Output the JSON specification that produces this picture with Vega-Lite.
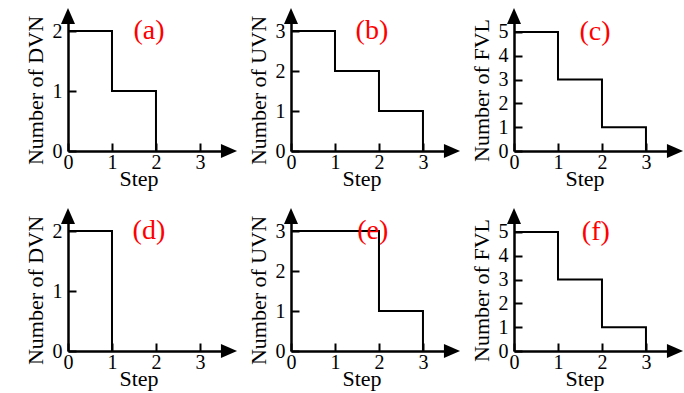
{
  "$schema": "https://vega.github.io/schema/vega-lite/v6.json",
  "background": "white",
  "padding": {"left": 23, "top": 7, "right": 5, "bottom": 3},
  "bounds": "flush",
  "columns": 3,
  "spacing": {"row": 65, "column": 62},
  "datasets": {
    "steps": [
      {"panel": "a", "step": 0, "value": 2},
      {"panel": "a", "step": 1, "value": 1},
      {"panel": "a", "step": 2, "value": 0},
      {"panel": "b", "step": 0, "value": 3},
      {"panel": "b", "step": 1, "value": 2},
      {"panel": "b", "step": 2, "value": 1},
      {"panel": "b", "step": 3, "value": 0},
      {"panel": "c", "step": 0, "value": 5},
      {"panel": "c", "step": 1, "value": 3},
      {"panel": "c", "step": 2, "value": 1},
      {"panel": "c", "step": 3, "value": 0},
      {"panel": "d", "step": 0, "value": 2},
      {"panel": "d", "step": 1, "value": 0},
      {"panel": "e", "step": 0, "value": 3},
      {"panel": "e", "step": 2, "value": 1},
      {"panel": "e", "step": 3, "value": 0},
      {"panel": "f", "step": 0, "value": 5},
      {"panel": "f", "step": 1, "value": 3},
      {"panel": "f", "step": 2, "value": 1},
      {"panel": "f", "step": 3, "value": 0}
    ]
  },
  "concat": [
    {
      "width": 161, "height": 135,
      "layer": [
        {
          "data": {"name": "steps"},
          "transform": [{"filter": "datum.panel === 'a'"}],
          "mark": {"type": "line", "interpolate": "step-after", "color": "black", "strokeWidth": 2},
          "encoding": {
            "x": {"field": "step", "type": "quantitative", "scale": {"domain": [0, 3.66], "nice": false}, "axis": {"values": [0, 1, 2, 3], "title": "Step", "format": "d"}},
            "y": {"field": "value", "type": "quantitative", "scale": {"domain": [0, 2.25], "nice": false}, "axis": {"values": [0, 1, 2], "title": "Number of DVN", "format": "d"}}
          }
        },
        {"data": {"values": [{}]}, "mark": {"type": "point", "shape": "M1.15,0L-1.15,-1L-1.15,1Z", "filled": true, "color": "black", "opacity": 1, "size": 196},
         "encoding": {"x": {"datum": 3.66, "type": "quantitative", "axis": {"values": [0, 1, 2, 3], "title": "Step", "format": "d"}}, "y": {"datum": 0, "type": "quantitative", "axis": {"values": [0, 1, 2], "title": "Number of DVN", "format": "d"}}}},
        {"data": {"values": [{}]}, "mark": {"type": "point", "shape": "M0,-1.15L-1,1.15L1,1.15Z", "filled": true, "color": "black", "opacity": 1, "size": 196},
         "encoding": {"x": {"datum": 0, "type": "quantitative", "axis": {"values": [0, 1, 2, 3], "title": "Step", "format": "d"}}, "y": {"datum": 2.25, "type": "quantitative", "axis": {"values": [0, 1, 2], "title": "Number of DVN", "format": "d"}}}},
        {"data": {"values": [{}]}, "mark": {"type": "text", "text": "(a)", "color": "#ff0000", "font": "Liberation Serif", "fontSize": 28, "baseline": "middle", "align": "center"},
         "encoding": {"x": {"datum": 1.84, "type": "quantitative", "axis": {"values": [0, 1, 2, 3], "title": "Step", "format": "d"}}, "y": {"datum": 2, "type": "quantitative", "axis": {"values": [0, 1, 2], "title": "Number of DVN", "format": "d"}}}}
      ]
    },
    {
      "width": 161, "height": 135,
      "layer": [
        {
          "data": {"name": "steps"},
          "transform": [{"filter": "datum.panel === 'b'"}],
          "mark": {"type": "line", "interpolate": "step-after", "color": "black", "strokeWidth": 2},
          "encoding": {
            "x": {"field": "step", "type": "quantitative", "scale": {"domain": [0, 3.66], "nice": false}, "axis": {"values": [0, 1, 2, 3], "title": "Step", "format": "d"}},
            "y": {"field": "value", "type": "quantitative", "scale": {"domain": [0, 3.375], "nice": false}, "axis": {"values": [0, 1, 2, 3], "title": "Number of UVN", "format": "d"}}
          }
        },
        {"data": {"values": [{}]}, "mark": {"type": "point", "shape": "M1.15,0L-1.15,-1L-1.15,1Z", "filled": true, "color": "black", "opacity": 1, "size": 196},
         "encoding": {"x": {"datum": 3.66, "type": "quantitative", "axis": {"values": [0, 1, 2, 3], "title": "Step", "format": "d"}}, "y": {"datum": 0, "type": "quantitative", "axis": {"values": [0, 1, 2, 3], "title": "Number of UVN", "format": "d"}}}},
        {"data": {"values": [{}]}, "mark": {"type": "point", "shape": "M0,-1.15L-1,1.15L1,1.15Z", "filled": true, "color": "black", "opacity": 1, "size": 196},
         "encoding": {"x": {"datum": 0, "type": "quantitative", "axis": {"values": [0, 1, 2, 3], "title": "Step", "format": "d"}}, "y": {"datum": 3.375, "type": "quantitative", "axis": {"values": [0, 1, 2, 3], "title": "Number of UVN", "format": "d"}}}},
        {"data": {"values": [{}]}, "mark": {"type": "text", "text": "(b)", "color": "#ff0000", "font": "Liberation Serif", "fontSize": 28, "baseline": "middle", "align": "center"},
         "encoding": {"x": {"datum": 1.84, "type": "quantitative", "axis": {"values": [0, 1, 2, 3], "title": "Step", "format": "d"}}, "y": {"datum": 3, "type": "quantitative", "axis": {"values": [0, 1, 2, 3], "title": "Number of UVN", "format": "d"}}}}
      ]
    },
    {
      "width": 161, "height": 135,
      "layer": [
        {
          "data": {"name": "steps"},
          "transform": [{"filter": "datum.panel === 'c'"}],
          "mark": {"type": "line", "interpolate": "step-after", "color": "black", "strokeWidth": 2},
          "encoding": {
            "x": {"field": "step", "type": "quantitative", "scale": {"domain": [0, 3.66], "nice": false}, "axis": {"values": [0, 1, 2, 3], "title": "Step", "format": "d"}},
            "y": {"field": "value", "type": "quantitative", "scale": {"domain": [0, 5.67], "nice": false}, "axis": {"values": [0, 1, 2, 3, 4, 5], "title": "Number of FVL", "format": "d"}}
          }
        },
        {"data": {"values": [{}]}, "mark": {"type": "point", "shape": "M1.15,0L-1.15,-1L-1.15,1Z", "filled": true, "color": "black", "opacity": 1, "size": 196},
         "encoding": {"x": {"datum": 3.66, "type": "quantitative", "axis": {"values": [0, 1, 2, 3], "title": "Step", "format": "d"}}, "y": {"datum": 0, "type": "quantitative", "axis": {"values": [0, 1, 2, 3, 4, 5], "title": "Number of FVL", "format": "d"}}}},
        {"data": {"values": [{}]}, "mark": {"type": "point", "shape": "M0,-1.15L-1,1.15L1,1.15Z", "filled": true, "color": "black", "opacity": 1, "size": 196},
         "encoding": {"x": {"datum": 0, "type": "quantitative", "axis": {"values": [0, 1, 2, 3], "title": "Step", "format": "d"}}, "y": {"datum": 5.67, "type": "quantitative", "axis": {"values": [0, 1, 2, 3, 4, 5], "title": "Number of FVL", "format": "d"}}}},
        {"data": {"values": [{}]}, "mark": {"type": "text", "text": "(c)", "color": "#ff0000", "font": "Liberation Serif", "fontSize": 28, "baseline": "middle", "align": "center"},
         "encoding": {"x": {"datum": 1.84, "type": "quantitative", "axis": {"values": [0, 1, 2, 3], "title": "Step", "format": "d"}}, "y": {"datum": 5, "type": "quantitative", "axis": {"values": [0, 1, 2, 3, 4, 5], "title": "Number of FVL", "format": "d"}}}}
      ]
    },
    {
      "width": 161, "height": 135,
      "layer": [
        {
          "data": {"name": "steps"},
          "transform": [{"filter": "datum.panel === 'd'"}],
          "mark": {"type": "line", "interpolate": "step-after", "color": "black", "strokeWidth": 2},
          "encoding": {
            "x": {"field": "step", "type": "quantitative", "scale": {"domain": [0, 3.66], "nice": false}, "axis": {"values": [0, 1, 2, 3], "title": "Step", "format": "d"}},
            "y": {"field": "value", "type": "quantitative", "scale": {"domain": [0, 2.25], "nice": false}, "axis": {"values": [0, 1, 2], "title": "Number of DVN", "format": "d"}}
          }
        },
        {"data": {"values": [{}]}, "mark": {"type": "point", "shape": "M1.15,0L-1.15,-1L-1.15,1Z", "filled": true, "color": "black", "opacity": 1, "size": 196},
         "encoding": {"x": {"datum": 3.66, "type": "quantitative", "axis": {"values": [0, 1, 2, 3], "title": "Step", "format": "d"}}, "y": {"datum": 0, "type": "quantitative", "axis": {"values": [0, 1, 2], "title": "Number of DVN", "format": "d"}}}},
        {"data": {"values": [{}]}, "mark": {"type": "point", "shape": "M0,-1.15L-1,1.15L1,1.15Z", "filled": true, "color": "black", "opacity": 1, "size": 196},
         "encoding": {"x": {"datum": 0, "type": "quantitative", "axis": {"values": [0, 1, 2, 3], "title": "Step", "format": "d"}}, "y": {"datum": 2.25, "type": "quantitative", "axis": {"values": [0, 1, 2], "title": "Number of DVN", "format": "d"}}}},
        {"data": {"values": [{}]}, "mark": {"type": "text", "text": "(d)", "color": "#ff0000", "font": "Liberation Serif", "fontSize": 28, "baseline": "middle", "align": "center"},
         "encoding": {"x": {"datum": 1.84, "type": "quantitative", "axis": {"values": [0, 1, 2, 3], "title": "Step", "format": "d"}}, "y": {"datum": 2, "type": "quantitative", "axis": {"values": [0, 1, 2], "title": "Number of DVN", "format": "d"}}}}
      ]
    },
    {
      "width": 161, "height": 135,
      "layer": [
        {
          "data": {"name": "steps"},
          "transform": [{"filter": "datum.panel === 'e'"}],
          "mark": {"type": "line", "interpolate": "step-after", "color": "black", "strokeWidth": 2},
          "encoding": {
            "x": {"field": "step", "type": "quantitative", "scale": {"domain": [0, 3.66], "nice": false}, "axis": {"values": [0, 1, 2, 3], "title": "Step", "format": "d"}},
            "y": {"field": "value", "type": "quantitative", "scale": {"domain": [0, 3.375], "nice": false}, "axis": {"values": [0, 1, 2, 3], "title": "Number of UVN", "format": "d"}}
          }
        },
        {"data": {"values": [{}]}, "mark": {"type": "point", "shape": "M1.15,0L-1.15,-1L-1.15,1Z", "filled": true, "color": "black", "opacity": 1, "size": 196},
         "encoding": {"x": {"datum": 3.66, "type": "quantitative", "axis": {"values": [0, 1, 2, 3], "title": "Step", "format": "d"}}, "y": {"datum": 0, "type": "quantitative", "axis": {"values": [0, 1, 2, 3], "title": "Number of UVN", "format": "d"}}}},
        {"data": {"values": [{}]}, "mark": {"type": "point", "shape": "M0,-1.15L-1,1.15L1,1.15Z", "filled": true, "color": "black", "opacity": 1, "size": 196},
         "encoding": {"x": {"datum": 0, "type": "quantitative", "axis": {"values": [0, 1, 2, 3], "title": "Step", "format": "d"}}, "y": {"datum": 3.375, "type": "quantitative", "axis": {"values": [0, 1, 2, 3], "title": "Number of UVN", "format": "d"}}}},
        {"data": {"values": [{}]}, "mark": {"type": "text", "text": "(e)", "color": "#ff0000", "font": "Liberation Serif", "fontSize": 28, "baseline": "middle", "align": "center"},
         "encoding": {"x": {"datum": 1.86, "type": "quantitative", "axis": {"values": [0, 1, 2, 3], "title": "Step", "format": "d"}}, "y": {"datum": 3, "type": "quantitative", "axis": {"values": [0, 1, 2, 3], "title": "Number of UVN", "format": "d"}}}}
      ]
    },
    {
      "width": 161, "height": 135,
      "layer": [
        {
          "data": {"name": "steps"},
          "transform": [{"filter": "datum.panel === 'f'"}],
          "mark": {"type": "line", "interpolate": "step-after", "color": "black", "strokeWidth": 2},
          "encoding": {
            "x": {"field": "step", "type": "quantitative", "scale": {"domain": [0, 3.66], "nice": false}, "axis": {"values": [0, 1, 2, 3], "title": "Step", "format": "d"}},
            "y": {"field": "value", "type": "quantitative", "scale": {"domain": [0, 5.67], "nice": false}, "axis": {"values": [0, 1, 2, 3, 4, 5], "title": "Number of FVL", "format": "d"}}
          }
        },
        {"data": {"values": [{}]}, "mark": {"type": "point", "shape": "M1.15,0L-1.15,-1L-1.15,1Z", "filled": true, "color": "black", "opacity": 1, "size": 196},
         "encoding": {"x": {"datum": 3.66, "type": "quantitative", "axis": {"values": [0, 1, 2, 3], "title": "Step", "format": "d"}}, "y": {"datum": 0, "type": "quantitative", "axis": {"values": [0, 1, 2, 3, 4, 5], "title": "Number of FVL", "format": "d"}}}},
        {"data": {"values": [{}]}, "mark": {"type": "point", "shape": "M0,-1.15L-1,1.15L1,1.15Z", "filled": true, "color": "black", "opacity": 1, "size": 196},
         "encoding": {"x": {"datum": 0, "type": "quantitative", "axis": {"values": [0, 1, 2, 3], "title": "Step", "format": "d"}}, "y": {"datum": 5.67, "type": "quantitative", "axis": {"values": [0, 1, 2, 3, 4, 5], "title": "Number of FVL", "format": "d"}}}},
        {"data": {"values": [{}]}, "mark": {"type": "text", "text": "(f)", "color": "#ff0000", "font": "Liberation Serif", "fontSize": 28, "baseline": "middle", "align": "center"},
         "encoding": {"x": {"datum": 1.86, "type": "quantitative", "axis": {"values": [0, 1, 2, 3], "title": "Step", "format": "d"}}, "y": {"datum": 5, "type": "quantitative", "axis": {"values": [0, 1, 2, 3, 4, 5], "title": "Number of FVL", "format": "d"}}}}
      ]
    }
  ],
  "config": {
    "view": {"stroke": null},
    "axis": {
      "grid": false,
      "domainColor": "black",
      "domainWidth": 2.5,
      "tickColor": "black",
      "tickWidth": 2,
      "tickSize": -8,
      "labelFont": "Liberation Serif",
      "labelFontSize": 20,
      "labelColor": "black",
      "labelFlush": false,
      "labelOverlap": false,
      "titleFont": "Liberation Serif",
      "titleFontSize": 22,
      "titleFontWeight": "normal",
      "titleColor": "black"
    },
    "axisX": {"labelPadding": 9, "labelAngle": 0, "titleX": 70.5, "titleY": 17, "titleAlign": "center", "titleBaseline": "top"},
    "axisY": {"labelPadding": 14, "titleX": -21, "titleY": 74, "titleAngle": 270, "titleAlign": "center", "titleBaseline": "bottom"}
  }
}
